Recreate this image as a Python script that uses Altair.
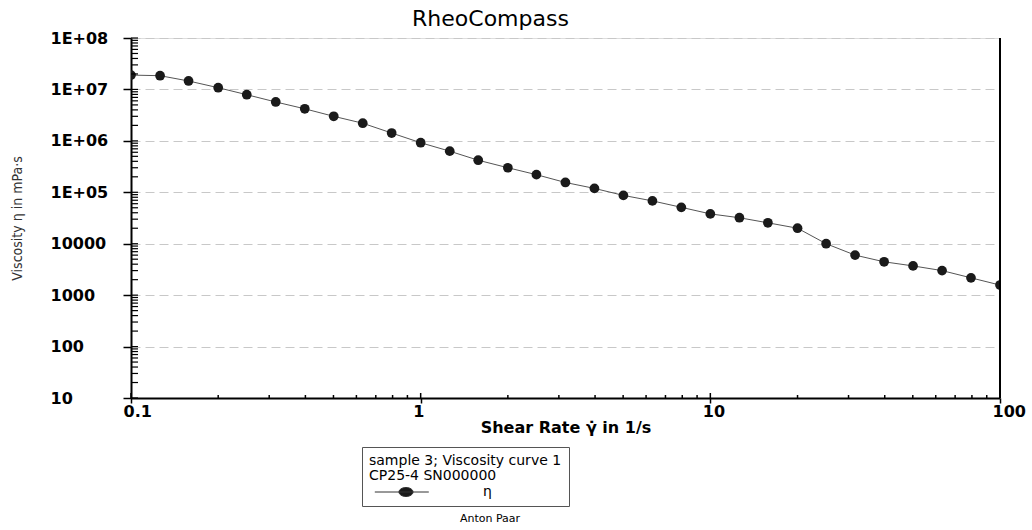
import altair as alt
import pandas as pd

# Flow curve: shear rate (1/s) and measured viscosity (mPa·s)
shear_rate = [0.1, 0.126, 0.158, 0.2, 0.251, 0.316, 0.398, 0.501, 0.631, 0.794,
              1.0, 1.26, 1.58, 2.0, 2.51, 3.16, 3.98, 5.01, 6.31, 7.94,
              10.0, 12.6, 15.8, 20.0, 25.1, 31.6, 39.8, 50.1, 63.1, 79.4, 100.0]
viscosity = [1.9e7, 1.85e7, 1.46e7, 1.08e7, 7.9e6, 5.7e6, 4.2e6, 3.0e6, 2.2e6, 1.42e6,
             9.2e5, 6.3e5, 4.2e5, 3.0e5, 2.2e5, 1.55e5, 1.19e5, 8.7e4, 6.8e4, 5.1e4,
             3.8e4, 3.2e4, 2.55e4, 2.0e4, 1.0e4, 6.0e3, 4.45e3, 3.7e3, 3.0e3, 2.17e3, 1.57e3]
series_name = "\u03b7"

x_tick_values = [0.1, 1, 10, 100]
x_tick_labels = ["0.1", "1", "10", "100"]
y_tick_values = [10, 100, 1000, 10000, 1e5, 1e6, 1e7, 1e8]
y_tick_labels = ["10", "100", "1000", "10000", "1E+05", "1E+06", "1E+07", "1E+08"]

legend_title = ["sample 3; Viscosity curve 1", "CP25-4 SN000000"]
footer_text = ["Anton Paar"]

W, H = 869, 360
FONT = "DejaVu Sans"

# minor (and major) decade ticks drawn inward from the axis lines
x_minor = [m * 10.0 ** k for k in (-1, 0, 1) for m in range(2, 10)]
y_minor = [m * 10.0 ** k for k in range(1, 8) for m in range(2, 10)]


def label_expr(values, labels):
    expr = "datum.label"
    for v, lab in zip(values, labels):
        expr = f"abs(datum.value / {v} - 1) < 1e-6 ? '{lab}' : ({expr})"
    return expr


df = pd.DataFrame({"rate": shear_rate, "eta": viscosity, "series": series_name})

xs = alt.Scale(type="log", domain=[0.1, 100], nice=False)
ys = alt.Scale(type="log", domain=[10, 1e8], nice=False)

x_axis = alt.Axis(
    values=x_tick_values, labelExpr=label_expr(x_tick_values, x_tick_labels),
    grid=False, domainColor="black", domainWidth=2,
    tickColor="black", tickWidth=1.5, tickSize=5,
    labelAlign="left", labelOffset=-8, labelBaseline="top", labelPadding=0,
    labelFlush=False, labelOverlap=False, labelBound=False,
    labelFont=FONT, labelFontSize=16, labelFontWeight="bold", labelColor="black",
    title="Shear Rate \u03b3\u0307 in 1/s", titleFont=FONT, titleFontSize=16,
    titleFontWeight="bold", titleColor="black", titleY=29, titleBaseline="middle",
)
y_axis = alt.Axis(
    values=y_tick_values, labelExpr=label_expr(y_tick_values, y_tick_labels),
    grid=True, gridDash=[9, 5], gridColor="#c8c8c8", gridWidth=1,
    domainColor="black", domainWidth=2,
    tickColor="black", tickWidth=1.5, tickSize=8,
    labelAlign="left", labelPadding=73, labelBaseline="middle",
    labelFlush=False, labelOverlap=False, labelBound=False,
    labelFont=FONT, labelFontSize=16, labelFontWeight="bold", labelColor="black",
    title="Viscosity \u03b7 in mPa\u00b7s",
    titleFont="Liberation Sans Narrow, DejaVu Sans Condensed, Liberation Sans",
    titleFontSize=14, titleFontWeight="normal", titleColor="#333",
    titleX=-114, titleY=H / 2, titleBaseline="middle",
)

# legend glyph: a short line with an oval marker, in units of sqrt(size)/2 = 6 px
legend_symbol = ("M-0.2,0H8.8M3.83,0A1.17,0.75 0 1,0 6.17,0"
                 "A1.17,0.75 0 1,0 3.83,0Z")

line = alt.Chart(df).mark_line(color="#555", strokeWidth=1, clip=True).encode(
    x=alt.X("rate:Q", scale=xs, axis=x_axis),
    y=alt.Y("eta:Q", scale=ys, axis=y_axis),
)

points = alt.Chart(df).mark_point(filled=True, size=95, opacity=1, clip=True).encode(
    x=alt.X("rate:Q", scale=xs, axis=x_axis),
    y=alt.Y("eta:Q", scale=ys, axis=y_axis),
    color=alt.Color(
        "series:N",
        scale=alt.Scale(domain=[series_name], range=["#1a1a1a"]),
        legend=alt.Legend(
            title=legend_title, orient="none", legendX=231, legendY=409,
            titleFont=FONT, titleFontSize=14, titleFontWeight="normal",
            titleColor="black", titleLineHeight=15, titlePadding=2, titleLimit=0,
            labelFont=FONT, labelFontSize=14, labelColor="black", labelOffset=100,
            symbolType=legend_symbol, symbolSize=144,
            symbolStrokeColor="#333", symbolStrokeWidth=1, symbolOpacity=1,
            strokeColor="#555", fillColor="white", padding=7,
        ),
    ),
)

x_in_minor = alt.Chart(pd.DataFrame({"rate": x_minor})).mark_rule(
    color="black", strokeWidth=1.5).encode(
    x=alt.X("rate:Q", scale=xs, axis=x_axis), y=alt.value(H), y2=alt.value(H - 3))
x_in_major = alt.Chart(pd.DataFrame({"rate": x_tick_values})).mark_rule(
    color="black", strokeWidth=1.5).encode(
    x=alt.X("rate:Q", scale=xs, axis=x_axis), y=alt.value(H), y2=alt.value(H - 5))
y_in = alt.Chart(pd.DataFrame({"eta": y_minor + y_tick_values})).mark_rule(
    color="black", strokeWidth=1.2).encode(
    y=alt.Y("eta:Q", scale=ys, axis=y_axis), x=alt.value(0), x2=alt.value(7))

right_border = alt.Chart(pd.DataFrame({"a": [0]})).mark_rule(
    color="black", strokeWidth=2).encode(
    x=alt.value(W), y=alt.value(0), y2=alt.value(H))

footer = alt.Chart(pd.DataFrame({"t": footer_text})).mark_text(
    font=FONT, fontSize=11, color="black", align="center", baseline="middle").encode(
    text="t:N", x=alt.value(359), y=alt.value(481))

chart = alt.layer(
    line, points, x_in_minor, x_in_major, y_in, right_border, footer
).properties(
    width=W, height=H,
    title=alt.TitleParams("RheoCompass", font=FONT, fontSize=22, fontWeight="normal",
                          color="black", frame="group", offset=12, dx=-75, dy=13,
                          anchor="middle"),
    autosize=alt.AutoSizeParams(type="none"),
    padding={"left": 131, "top": 38, "right": 32, "bottom": 132},
).configure_view(
    stroke="#888", strokeWidth=1
).configure(background="white")

chart.save("out.html", embed_options={"renderer": "svg", "actions": False})
